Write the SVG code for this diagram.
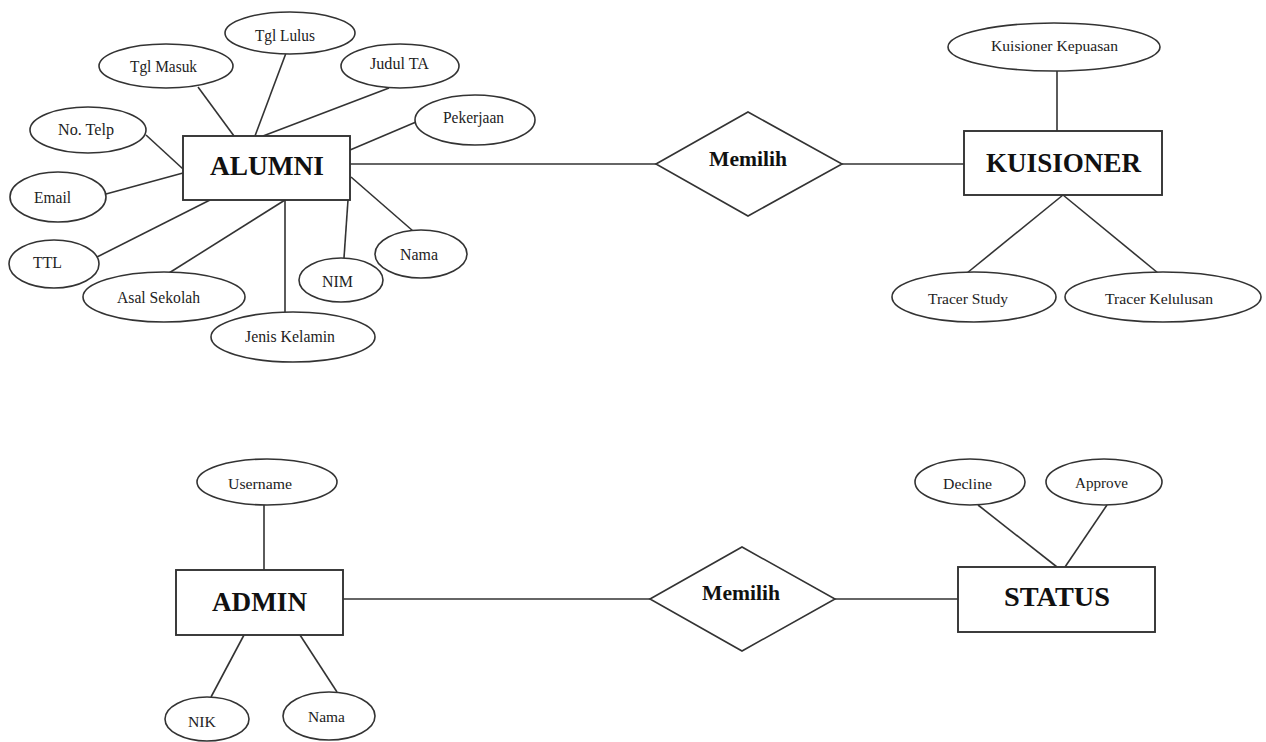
<svg xmlns="http://www.w3.org/2000/svg" width="1266" height="742" viewBox="0 0 1266 742">
<style>
.bg{fill:#fff}
.ent{fill:#fff;stroke:#333;stroke-width:1.9}
.att{fill:#fff;stroke:#333;stroke-width:1.6}
.rel{fill:#fff;stroke:#333;stroke-width:1.6}
.ln{stroke:#333;stroke-width:1.6;fill:none}
.et{font-family:"Liberation Serif",serif;font-weight:bold;font-size:28px;fill:#111}
.rt{font-family:"Liberation Serif",serif;font-weight:bold;font-size:21px;fill:#111}
.at{font-family:"Liberation Serif",serif;font-size:17px;fill:#222}
.as{font-family:"Liberation Serif",serif;font-size:15px;fill:#222}
</style>
<rect class="bg" x="0" y="0" width="1266" height="742"/>
<g id="connectors">
<line class="ln" x1="350" y1="164" x2="656" y2="164"/>
<line class="ln" x1="842" y1="164" x2="964" y2="164"/>
<line class="ln" x1="286" y1="53" x2="255" y2="136"/>
<line class="ln" x1="198" y1="87" x2="234" y2="136"/>
<line class="ln" x1="389" y1="88" x2="263" y2="136"/>
<line class="ln" x1="416" y1="122" x2="350" y2="150"/>
<line class="ln" x1="146" y1="135" x2="183" y2="169"/>
<line class="ln" x1="106" y1="194" x2="183" y2="173"/>
<line class="ln" x1="97" y1="257" x2="210" y2="200"/>
<line class="ln" x1="169" y1="273" x2="285" y2="200"/>
<line class="ln" x1="285" y1="200" x2="285" y2="312"/>
<line class="ln" x1="344" y1="258" x2="348" y2="200"/>
<line class="ln" x1="413" y1="231" x2="351" y2="177"/>
<line class="ln" x1="1057" y1="71" x2="1057" y2="131"/>
<line class="ln" x1="1063" y1="195" x2="967" y2="273"/>
<line class="ln" x1="1063" y1="195" x2="1158" y2="273"/>
<line class="ln" x1="343" y1="599" x2="650" y2="599"/>
<line class="ln" x1="835" y1="599" x2="958" y2="599"/>
<line class="ln" x1="264" y1="505" x2="264" y2="570"/>
<line class="ln" x1="211" y1="697" x2="244" y2="635"/>
<line class="ln" x1="337" y1="692" x2="300" y2="635"/>
<line class="ln" x1="978" y1="505" x2="1057" y2="567"/>
<line class="ln" x1="1107" y1="505" x2="1065" y2="567"/>
</g>
<g id="alumni"><rect class="ent" x="183" y="136" width="167" height="64"/><text class="et" x="210" y="175" textLength="114" lengthAdjust="spacingAndGlyphs">ALUMNI</text></g>
<g id="memilih1"><polygon class="rel" points="656,164 748,112 842,164 748,216"/><text class="rt" x="709" y="166" textLength="78" lengthAdjust="spacingAndGlyphs">Memilih</text></g>
<g id="kuisioner"><rect class="ent" x="964" y="131" width="198" height="64"/><text class="et" x="986" y="172" textLength="155" lengthAdjust="spacingAndGlyphs">KUISIONER</text></g>
<g id="a-tgllulus"><ellipse class="att" cx="290" cy="33" rx="65" ry="21"/><text class="at" x="255" y="41" textLength="60" lengthAdjust="spacingAndGlyphs">Tgl Lulus</text></g>
<g id="a-tglmasuk"><ellipse class="att" cx="166" cy="66" rx="67" ry="22"/><text class="at" x="130" y="72" textLength="67" lengthAdjust="spacingAndGlyphs">Tgl Masuk</text></g>
<g id="a-judulta"><ellipse class="att" cx="400" cy="66" rx="59" ry="22"/><text class="at" x="370" y="69" textLength="59" lengthAdjust="spacingAndGlyphs">Judul TA</text></g>
<g id="a-pekerjaan"><ellipse class="att" cx="475" cy="120" rx="60" ry="25"/><text class="at" x="443" y="123" textLength="61" lengthAdjust="spacingAndGlyphs">Pekerjaan</text></g>
<g id="a-notelp"><ellipse class="att" cx="88" cy="130" rx="58" ry="23"/><text class="at" x="58" y="135" textLength="56" lengthAdjust="spacingAndGlyphs">No. Telp</text></g>
<g id="a-email"><ellipse class="att" cx="58" cy="197" rx="48" ry="25"/><text class="at" x="34" y="203" textLength="37" lengthAdjust="spacingAndGlyphs">Email</text></g>
<g id="a-ttl"><ellipse class="att" cx="54" cy="264" rx="45" ry="24"/><text class="at" x="33" y="268" textLength="29" lengthAdjust="spacingAndGlyphs">TTL</text></g>
<g id="a-asalsekolah"><ellipse class="att" cx="164" cy="297" rx="81" ry="25"/><text class="at" x="117" y="303" textLength="83" lengthAdjust="spacingAndGlyphs">Asal Sekolah</text></g>
<g id="a-jeniskelamin"><ellipse class="att" cx="293" cy="337" rx="82" ry="25"/><text class="at" x="245" y="342" textLength="90" lengthAdjust="spacingAndGlyphs">Jenis Kelamin</text></g>
<g id="a-nim"><ellipse class="att" cx="341" cy="280" rx="42" ry="22"/><text class="at" x="322" y="287" textLength="31" lengthAdjust="spacingAndGlyphs">NIM</text></g>
<g id="a-nama"><ellipse class="att" cx="421" cy="254" rx="46" ry="24"/><text class="at" x="400" y="260" textLength="38" lengthAdjust="spacingAndGlyphs">Nama</text></g>
<g id="k-kepuasan"><ellipse class="att" cx="1054" cy="47" rx="106" ry="24"/><text class="as" x="991" y="51" textLength="127" lengthAdjust="spacingAndGlyphs">Kuisioner Kepuasan</text></g>
<g id="k-tracerstudy"><ellipse class="att" cx="974" cy="297" rx="82" ry="25"/><text class="as" x="928" y="304" textLength="80" lengthAdjust="spacingAndGlyphs">Tracer Study</text></g>
<g id="k-tracerkelulusan"><ellipse class="att" cx="1163" cy="297" rx="98" ry="25"/><text class="as" x="1105" y="304" textLength="108" lengthAdjust="spacingAndGlyphs">Tracer Kelulusan</text></g>
<g id="admin"><rect class="ent" x="176" y="570" width="167" height="65"/><text class="et" x="212" y="611" textLength="95" lengthAdjust="spacingAndGlyphs">ADMIN</text></g>
<g id="memilih2"><polygon class="rel" points="650,599 742,547 835,599 742,651"/><text class="rt" x="702" y="600" textLength="78" lengthAdjust="spacingAndGlyphs">Memilih</text></g>
<g id="status"><rect class="ent" x="958" y="567" width="197" height="65"/><text class="et" x="1004" y="606" textLength="106" lengthAdjust="spacingAndGlyphs">STATUS</text></g>
<g id="ad-username"><ellipse class="att" cx="267" cy="482" rx="70" ry="23"/><text class="as" x="228" y="489" textLength="64" lengthAdjust="spacingAndGlyphs">Username</text></g>
<g id="ad-nik"><ellipse class="att" cx="207" cy="719" rx="42" ry="22"/><text class="as" x="188" y="727" textLength="28" lengthAdjust="spacingAndGlyphs">NIK</text></g>
<g id="ad-nama"><ellipse class="att" cx="329" cy="716" rx="46" ry="24"/><text class="as" x="308" y="722" textLength="37" lengthAdjust="spacingAndGlyphs">Nama</text></g>
<g id="st-decline"><ellipse class="att" cx="970" cy="482" rx="55" ry="23"/><text class="as" x="943" y="489" textLength="49" lengthAdjust="spacingAndGlyphs">Decline</text></g>
<g id="st-approve"><ellipse class="att" cx="1104" cy="482" rx="58" ry="23"/><text class="as" x="1075" y="488" textLength="53" lengthAdjust="spacingAndGlyphs">Approve</text></g>
</svg>
